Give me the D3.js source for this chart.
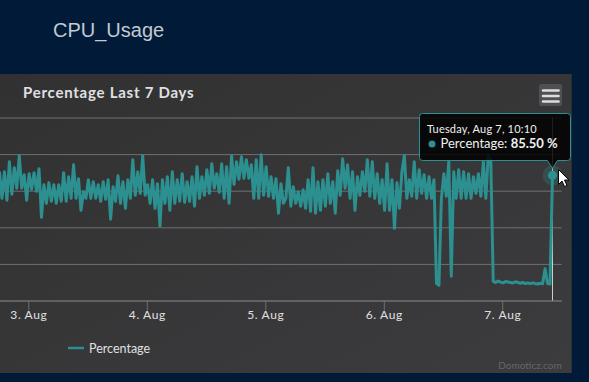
<!DOCTYPE html>
<html><head><meta charset="utf-8">
<script src="https://cdn.jsdelivr.net/npm/d3@7"></script>
<style>
html,body{margin:0;padding:0;background:#011a37;overflow:hidden}
svg{display:block}
</style></head><body>
<svg id="c" width="589" height="382"></svg>
<script>
// ---------- data ----------
const pageTitle = "CPU_Usage";
const chartTitle = "Percentage Last 7 Days";
const seriesName = "Percentage";
const seriesUnit = "%";
const startTime = Date.UTC(2018, 7, 2, 18, 10);
const stepMinutes = 30;
const percentValues = [
  88.0,69.8,87.9,68.5,94.8,72.6,90.7,76.7,98.9,76.7,
  85.9,68.5,86.6,76.0,87.3,74.6,90.0,56.8,79.1,66.4,
  80.4,67.8,79.1,66.4,79.1,67.8,87.3,67.8,84.5,69.8,
  92.7,69.8,83.2,61.6,74.3,69.8,82.5,69.8,81.1,69.8,
  79.1,67.8,81.1,69.1,82.5,55.5,77.7,67.8,85.2,66.4,
  81.1,63.0,82.5,69.8,96.1,71.9,87.9,73.2,98.9,71.9,
  79.1,66.4,82.5,63.0,79.8,50.7,82.5,66.4,84.5,61.6,
  87.9,66.4,82.5,67.8,86.6,67.1,81.1,67.8,84.5,64.4,
  91.4,69.8,84.5,71.9,89.3,73.2,93.4,76.7,86.6,73.9,
  93.4,69.8,91.4,66.4,98.9,79.4,94.8,82.8,98.2,83.5,
  96.1,83.5,92.7,69.8,96.1,69.8,99.5,71.9,91.4,71.2,
  84.5,69.8,83.2,59.6,79.8,66.4,69.8,90.7,64.4,77.7,
  66.4,74.3,64.4,75.7,63.0,82.5,60.9,90.7,59.6,81.1,
  61.6,82.5,64.4,86.6,66.4,81.1,59.6,88.6,71.9,96.8,
  76.7,92.7,69.8,87.9,61.6,84.5,71.9,87.9,74.6,96.1,
  71.2,94.8,69.8,86.6,66.4,82.5,61.6,93.4,61.6,82.5,
  49.3,80.4,63.0,87.9,98.9,69.8,82.5,71.2,94.8,69.8,
  89.3,73.2,85.9,69.8,84.5,69.8,82.5,11.8,10.4,69.8,
  86.6,71.2,94.8,16.6,87.9,69.8,89.3,69.8,87.9,69.8,
  86.6,69.8,84.5,73.2,86.6,71.2,94.8,69.8,99.5,96.1,
  13.0,12.3,13.3,12.6,12.0,13.0,12.6,12.3,12.0,12.8,
  12.3,11.8,12.3,11.6,12.0,11.5,12.0,11.6,11.3,11.8,
  11.5,21.7,11.6,11.3,85.5
];
const xTickDates = [Date.UTC(2018,7,3), Date.UTC(2018,7,4), Date.UTC(2018,7,5), Date.UTC(2018,7,6), Date.UTC(2018,7,7)];
const xTickLabels = ["3. Aug", "4. Aug", "5. Aug", "6. Aug", "7. Aug"];
const xDomain = [Date.UTC(2018,7,2,18,16), Date.UTC(2018,7,7,12,2)];
const yTickValues = [0, 25, 50, 75, 100, 125];
const yDomain = [0, 125];
const tooltipHeader = "Tuesday, Aug 7, 10:10";
const creditsText = "Domoticz.com";

// ---------- build ----------
const series = percentValues.map((v, i) => ({t: new Date(startTime + i * stepMinutes * 60000), v}));
const color = "#2b908f";
const font = "Lato, 'Noto Sans', sans-serif";

const svg = d3.select("#c");
const defs = svg.append("defs");
const grad = defs.append("linearGradient").attr("id","bg").attr("x1",0).attr("y1",0).attr("x2",1).attr("y2",1);
grad.append("stop").attr("offset",0).attr("stop-color","#313132");
grad.append("stop").attr("offset",1).attr("stop-color","#3c3c3e");

// page title
svg.append("text").attr("x",53).attr("y",37).text(pageTitle)
  .attr("font-family","'Liberation Sans', Arial, sans-serif").attr("font-size",20).attr("fill","#c3cad3");

// panel
const panel = {x:0, y:74, w:571.7, h:299};
svg.append("rect").attr("x",panel.x).attr("y",panel.y).attr("width",panel.w).attr("height",panel.h).attr("fill","url(#bg)");

const plot = {left:0, right:561.7, top:117.5, bottom:300.5};
const x = d3.scaleUtc().domain(xDomain).range([plot.left, plot.right]);
const y = d3.scaleLinear().domain(yDomain).range([plot.bottom, plot.top]);

// chart title
svg.append("text").attr("x",23).attr("y",97.5).text(chartTitle)
  .attr("font-family",font).attr("font-weight","bold").attr("font-size",15).attr("letter-spacing",0.75).attr("fill","#E0E0E3");

// gridlines
const grid = svg.append("g").attr("transform",`translate(${plot.right},0)`)
  .call(d3.axisLeft(y).tickValues(yTickValues).tickSize(plot.right - plot.left + 10).tickFormat(""));
grid.select(".domain").remove();
grid.selectAll("line").attr("stroke","#707073");

// x axis
const xa = svg.append("g").attr("transform",`translate(0,${plot.bottom})`)
  .call(d3.axisBottom(x).tickValues(xTickDates).tickFormat((d,i)=>xTickLabels[i]).tickSize(10).tickSizeOuter(0).tickPadding(0));
xa.select(".domain").attr("stroke","#707073").attr("d",`M${plot.left-10},0.5H${plot.right}`);
xa.selectAll("line").attr("stroke","#707073");
xa.selectAll("text").attr("font-family",font).attr("font-size",12).attr("letter-spacing",0.6).attr("fill","#E0E0E3");

// crosshair
const last = series[series.length-1];
const hx = x(last.t), hy = y(last.v);
svg.append("line").attr("x1",Math.round(hx)+0.5).attr("x2",Math.round(hx)+0.5).attr("y1",plot.top).attr("y2",plot.bottom)
  .attr("stroke","#cccccc").attr("stroke-width",1);

// line
const line = d3.line().x(d=>x(d.t)).y(d=>y(d.v));
svg.append("path").datum(series).attr("d",line).attr("fill","none").attr("stroke",color)
  .attr("stroke-width",3).attr("stroke-linejoin","round");

// hover marker
svg.append("circle").attr("cx",hx).attr("cy",hy).attr("r",10).attr("fill",color).attr("opacity",0.25);
svg.append("circle").attr("cx",hx).attr("cy",hy).attr("r",4.5).attr("fill",color);

// menu button
svg.append("rect").attr("x",539).attr("y",84).attr("width",23).attr("height",22).attr("rx",2).attr("fill","#505053");
[90.5, 96, 101.5].forEach(yy=>{
  svg.append("line").attr("x1",543).attr("x2",558.5).attr("y1",yy).attr("y2",yy)
    .attr("stroke","#DDDDDD").attr("stroke-width",2.6).attr("stroke-linecap","round");
});

// tooltip
const tb = {l:419.5, r:570.5, t:113.5, b:160.5};
const tipX = hx, tipY = hy - 7, rr = 3;
const tp = d3.path();
tp.moveTo(tb.l+rr, tb.t);
tp.lineTo(tb.r-rr, tb.t); tp.arcTo(tb.r, tb.t, tb.r, tb.t+rr, rr);
tp.lineTo(tb.r, tb.b-rr); tp.arcTo(tb.r, tb.b, tb.r-rr, tb.b, rr);
tp.lineTo(tipX+5, tb.b); tp.lineTo(tipX, tipY); tp.lineTo(tipX-5, tb.b);
tp.lineTo(tb.l+rr, tb.b); tp.arcTo(tb.l, tb.b, tb.l, tb.b-rr, rr);
tp.lineTo(tb.l, tb.t+rr); tp.arcTo(tb.l, tb.t, tb.l+rr, tb.t, rr);
tp.closePath();
svg.append("path").attr("d",tp.toString()).attr("fill","rgba(0,0,0,0.85)").attr("stroke",color).attr("stroke-width",1);
svg.append("text").attr("x",427).attr("y",133).text(tooltipHeader)
  .attr("font-family",font).attr("font-size",11).attr("letter-spacing",0.2).attr("fill","#F0F0F0");
svg.append("circle").attr("cx",432).attr("cy",144).attr("r",3.5).attr("fill",color);
const t2 = svg.append("text").attr("x",440.5).attr("y",148).attr("font-family",font).attr("font-size",13).attr("fill","#F0F0F0");
t2.append("tspan").text(seriesName + ": ");
t2.append("tspan").attr("font-weight","bold").text(last.v.toFixed(2) + " " + seriesUnit);

// cursor
svg.append("path").attr("transform","translate(558.5,169.5)")
  .attr("d","M0,0 L0,15 L3.5,11.5 L6,17 L8.5,16 L6,10.5 L10.5,10.5 Z")
  .attr("fill","#ffffff").attr("stroke","#000000").attr("stroke-width",1).attr("stroke-linejoin","round");

// legend
svg.append("line").attr("x1",68).attr("x2",84).attr("y1",348).attr("y2",348).attr("stroke",color).attr("stroke-width",2.5);
svg.append("text").attr("x",89).attr("y",352.5).text(seriesName)
  .attr("font-family",font).attr("font-size",12.5).attr("fill","#E0E0E3");

// credits
svg.append("text").attr("x",561.7).attr("y",369).attr("text-anchor","end").text(creditsText)
  .attr("font-family",font).attr("font-size",10).attr("fill","#666666");
</script>
</body></html>
